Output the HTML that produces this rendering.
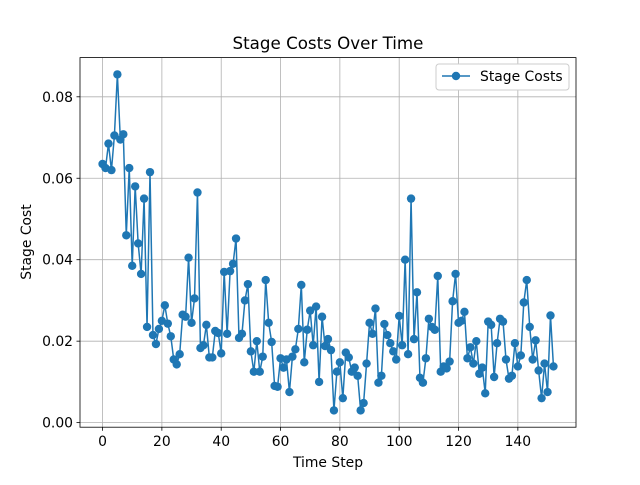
<!DOCTYPE html>
<html><head><meta charset="utf-8"><style>
body{margin:0;background:#fff}
svg text{font-family:"DejaVu Sans","Liberation Sans",sans-serif;fill:#000}
</style></head><body>
<svg id="chart" width="640" height="480">
<rect width="640" height="480" fill="#fff"/>
<text x="328" y="49" font-size="16.7" text-anchor="middle">Stage Costs Over Time</text>
<text x="328" y="467" font-size="13.9" text-anchor="middle">Time Step</text>
<text transform="translate(31,242) rotate(-90)" font-size="13.9" text-anchor="middle">Stage Cost</text>
<g id="grid"></g><g id="ticks"></g><g id="series"></g>
<rect x="80" y="57.6" width="496" height="369.6" fill="none" stroke="#000" stroke-width="0.8"/>
<g>
<rect x="436" y="64" width="133" height="26" rx="3" fill="#fff" stroke="#ccc"/>
<line x1="442" y1="76" x2="470" y2="76" stroke="#1f77b4" stroke-width="1.5"/>
<circle cx="456" cy="76" r="4.2" fill="#1f77b4"/>
<text x="480" y="81" font-size="13.9">Stage Costs</text>
</g>
</svg>
<script>
const values=[0.0635,0.0625,0.0685,0.062,0.0705,0.0855,0.0695,0.0708,0.046,0.0625,0.0385,0.058,0.044,0.0365,0.055,0.0235,0.0615,0.0215,0.0193,0.023,0.025,0.0288,0.0243,0.0212,0.0155,0.0143,0.0168,0.0265,0.026,0.0405,0.0245,0.0305,0.0565,0.0183,0.019,0.024,0.016,0.016,0.0225,0.022,0.017,0.037,0.0218,0.0372,0.039,0.0452,0.0208,0.0218,0.030,0.034,0.0175,0.0125,0.020,0.0125,0.0162,0.035,0.0245,0.0198,0.009,0.0088,0.0158,0.0135,0.0155,0.0075,0.0162,0.018,0.023,0.0338,0.0148,0.0228,0.0275,0.019,0.0285,0.010,0.026,0.0188,0.0205,0.0178,0.003,0.0125,0.0148,0.006,0.0172,0.016,0.0125,0.0135,0.0115,0.003,0.0048,0.0145,0.0245,0.0218,0.028,0.0098,0.0115,0.0242,0.0215,0.0195,0.0175,0.0155,0.0262,0.019,0.040,0.0168,0.055,0.0205,0.032,0.011,0.0098,0.0158,0.0255,0.0235,0.0228,0.036,0.0125,0.0138,0.0133,0.015,0.0298,0.0365,0.0245,0.025,0.0272,0.0158,0.0185,0.0145,0.020,0.012,0.0135,0.0072,0.0248,0.024,0.0112,0.0195,0.0255,0.0248,0.0155,0.0108,0.0115,0.0195,0.0138,0.0165,0.0295,0.035,0.0235,0.0155,0.0202,0.0128,0.006,0.0145,0.0075,0.0263,0.0138];
const xTicks=[0,20,40,60,80,100,120,140];
const yTicks=[0,0.02,0.04,0.06,0.08];
const yTickLabels=["0.00","0.02","0.04","0.06","0.08"];
const NS="http://www.w3.org/2000/svg";
const L=80,R=576,T=57.6,B=427.2;
const n=values.length, xmin=-(n-1)*0.05, xmax=(n-1)*1.05;
const vmin=Math.min(...values), vmax=Math.max(...values), pad=(vmax-vmin)*0.05;
const ymin=vmin-pad, ymax=vmax+pad;
const xs=v=>L+(v-xmin)/(xmax-xmin)*(R-L);
const ys=v=>B-(v-ymin)/(ymax-ymin)*(B-T);
function mk(tag,attrs,parent){const e=document.createElementNS(NS,tag);for(const k in attrs)e.setAttribute(k,attrs[k]);parent.appendChild(e);return e;}
const grid=document.getElementById('grid'),ticks=document.getElementById('ticks'),ser=document.getElementById('series');
xTicks.forEach(t=>{const x=xs(t);
 const g=mk('line',{x1:x,x2:x,y1:T,y2:B,stroke:'#b0b0b0','stroke-width':0.8},grid);
 
 
 mk('line',{x1:x,x2:x,y1:B,y2:B+3.5,stroke:'#000','stroke-width':0.8},ticks);
 const tx=mk('text',{x:x,y:B+19,'font-size':13.9,'text-anchor':'middle'},ticks);tx.textContent=t;
 
 
});
yTicks.forEach((t,i)=>{const y=ys(t);
 const g=mk('line',{x1:L,x2:R,y1:y,y2:y,stroke:'#b0b0b0','stroke-width':0.8},grid);
 
 
 mk('line',{x1:L-3.5,x2:L,y1:y,y2:y,stroke:'#000','stroke-width':0.8},ticks);
 const tx=mk('text',{x:L-7,y:y+5,'font-size':13.9,'text-anchor':'end'},ticks);tx.textContent=yTickLabels[i];
 
 
});
const pl=mk('polyline',{points:values.map((v,i)=>xs(i)+','+ys(v)).join(' '),fill:'none',stroke:'#1f77b4','stroke-width':1.5},ser);


values.forEach((v,i)=>{const c=mk('circle',{cx:xs(i),cy:ys(v),r:4.2,fill:'#1f77b4'},ser);
 
 
});
</script>
</body></html>
